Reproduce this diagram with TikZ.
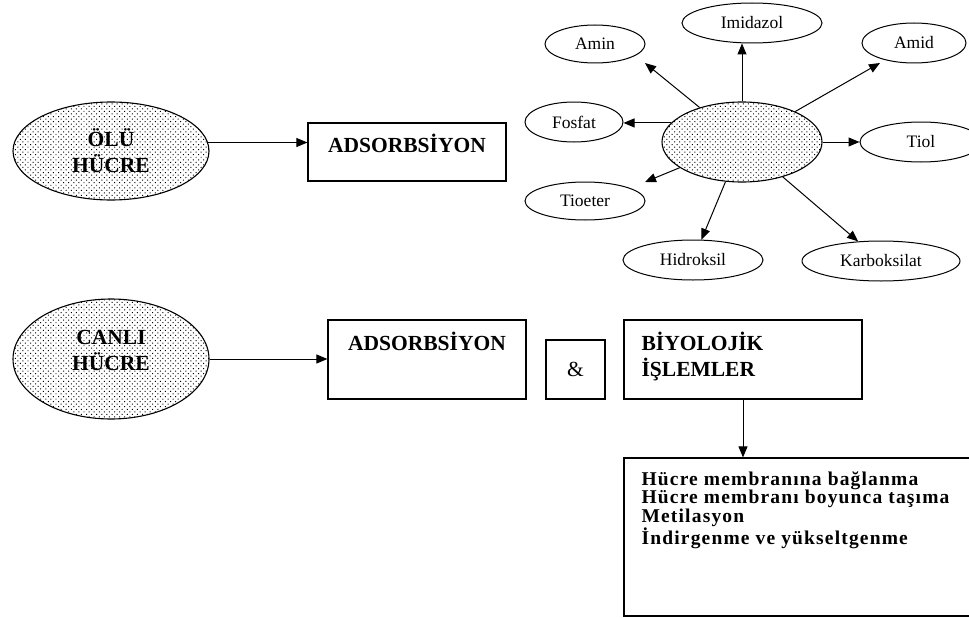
\documentclass[tikz,border=0pt]{standalone}
\usepackage{fontspec}
\setmainfont{Liberation Serif}
\usetikzlibrary{arrows.meta,shapes.geometric,patterns.meta}
\begin{document}
\begin{tikzpicture}[x=1pt,y=-1pt,
  arr/.style={-{Triangle[length=11pt,width=9pt]}, line width=1pt},
  cell/.style={ellipse, draw, line width=1.1pt, inner sep=0pt,
    preaction={fill=white}, pattern={Dots[angle=45,distance=3.6pt,radius=0.7pt]}},
  group/.style={ellipse, draw, line width=1pt, inner sep=0pt,
    font=\fontsize{17.5}{20}\selectfont},
  caps/.style={font=\fontsize{21.5}{26}\selectfont\bfseries},
  listfont/.style={font=\fontsize{19.5}{18.5}\selectfont\bfseries\addfontfeature{LetterSpace=6}},
  box/.style={draw, rectangle, line width=1.2pt, inner sep=0pt},
]
\clip (0,0) rectangle (969,618);

% dead cell: adsorption onto functional groups
\node[cell, caps, align=center, minimum width=196pt, minimum height=98pt] (olu) at (111,151) {ÖLÜ\\HÜCRE};
\node[box, caps, minimum width=198pt, minimum height=58pt, text height=8pt, text depth=8pt] (adsA) at (407,152) {ADSORBSİYON};

\node[cell, minimum width=160pt, minimum height=80pt] (hub) at (742,142) {};
\node[group, minimum width=140pt, minimum height=40pt] (imidazol) at (752,23) {Imidazol};
\node[group, minimum width=100pt, minimum height=38pt] (amin) at (595,44) {Amin};
\node[group, minimum width=104pt, minimum height=40pt] (amid) at (914,43) {Amid};
\node[group, minimum width=98pt, minimum height=40pt] (fosfat) at (574,122) {Fosfat};
\node[group, minimum width=122pt, minimum height=40pt] (tiol) at (921,142) {Tiol};
\node[group, minimum width=120pt, minimum height=38pt] (tioeter) at (585,201) {Tioeter};
\node[group, minimum width=140pt, minimum height=40pt] (hidroksil) at (693,260) {Hidroksil};
\node[group, minimum width=158pt, minimum height=40pt] (karboksilat) at (881,261) {Karboksilat};

\coordinate (aminTip) at (645,63);
\coordinate (amidTip) at (880,63);
\coordinate (tioeterTip) at (645,182);

\draw[arr] (olu.5) -- (olu.5 -| adsA.west);
\draw[arr] (hub.north) -- (hub.north |- imidazol.south);
\draw[arr] (hub) -- (aminTip);
\draw[arr] (hub) -- (amidTip);
\draw[arr] (hub.165) -- (hub.165 -| fosfat.east);
\draw[arr] (hub.east) -- (tiol.west);
\draw[arr] (hub) -- (tioeterTip);
\draw[arr] (hub) -- (hidroksil);
\draw[arr] (hub) -- (karboksilat);

% living cell: adsorption and biological processes
\node[cell, minimum width=196pt, minimum height=120pt,
  label={[caps, align=center, yshift=9pt]center:CANLI\\HÜCRE}] (canli) at (111,359) {};
\node[box, caps, minimum width=198pt, minimum height=79pt, text height=0pt, text depth=19pt] (adsB) at (427,359.5) {ADSORBSİYON};
\node[box, minimum width=59pt, minimum height=59pt, font=\fontsize{21.5}{26}\selectfont] (amp) at (575.5,369.5) {\&};
\node[box, minimum width=238pt, minimum height=79pt,
  label={[caps, align=left, anchor=north west, inner sep=0pt, xshift=18pt, yshift=-12pt]north west:BİYOLOJİK\\İŞLEMLER}] (bio) at (743,359.5) {};
\node[box, minimum width=360pt, minimum height=158pt,
  label={[listfont, align=left, anchor=north west, inner sep=0pt, xshift=18pt, yshift=-14pt]north west:Hücre membranına bağlanma\\Hücre membranı boyunca taşıma\\Metilasyon\\İndirgenme ve yükseltgenme}] (res) at (804,537) {};

\draw[arr] (canli.east) -- (canli.east -| adsB.west);
\draw[arr] (bio.south) -- (bio.south |- res.north);
\end{tikzpicture}
\end{document}
